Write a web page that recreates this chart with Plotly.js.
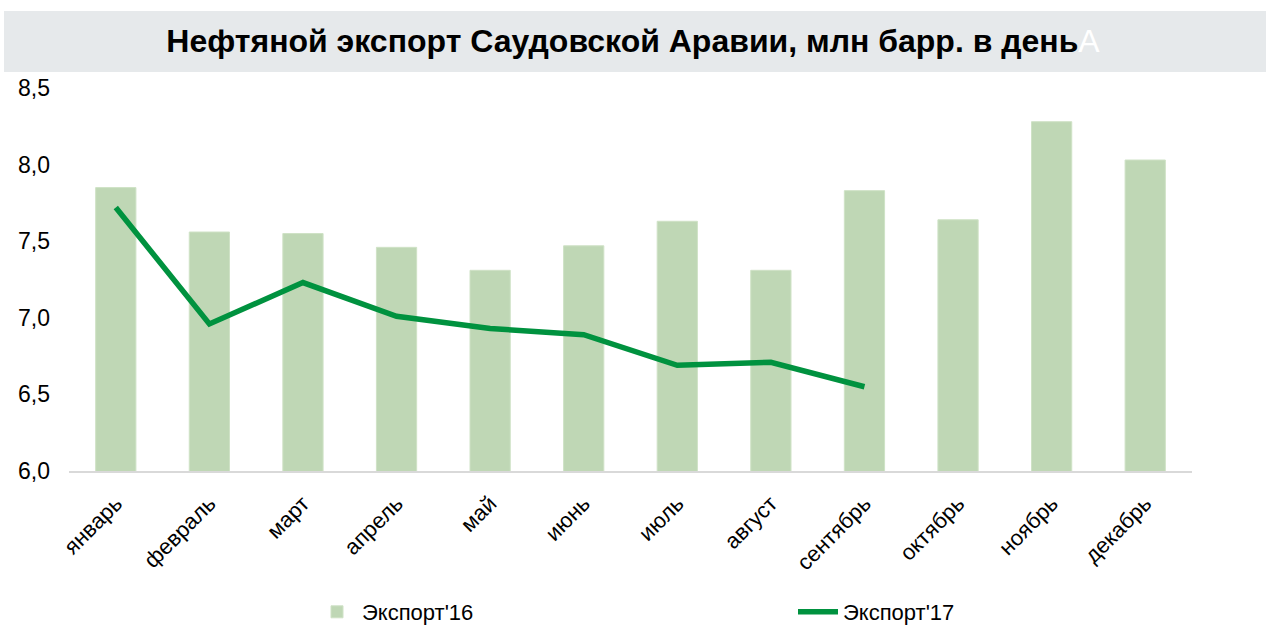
<!DOCTYPE html>
<html>
<head>
<meta charset="utf-8">
<script src="https://cdn.plot.ly/plotly-3.0.1.min.js"></script>
<style>html,body{margin:0;padding:0;background:#fff;}#chart{width:1266px;height:628px;}</style>
</head>
<body>
<div id="chart"></div>
<script>
const months = ["январь","февраль","март","апрель","май","июнь","июль","август","сентябрь","октябрь","ноябрь","декабрь"];
const export16 = [7.85, 7.56, 7.55, 7.46, 7.31, 7.47, 7.63, 7.31, 7.83, 7.64, 8.28, 8.03];
const months17 = ["январь","февраль","март","апрель","май","июнь","июль","август","сентябрь"];
const export17 = [7.72, 6.96, 7.23, 7.01, 6.93, 6.89, 6.69, 6.71, 6.55];
const seriesNames = ["Экспорт'16", "Экспорт'17"];
const yTicks = [6.0, 6.5, 7.0, 7.5, 8.0, 8.5];

const FONT = "Liberation Sans, Arial, sans-serif";

const traces = [
  {
    type: "bar",
    name: seriesNames[0],
    x: months,
    y: export16,
    marker: {color: "#BFD7B5", line: {color: "#CFE2C6", width: 1}},
    width: 0.43,
    hoverinfo: "x+y"
  },
  {
    type: "scatter",
    mode: "lines",
    name: seriesNames[1],
    x: months17,
    y: export17,
    line: {color: "#00923F", width: 5.5},
    hoverinfo: "x+y"
  }
];

const layout = {
  width: 1266,
  height: 628,
  margin: {l: 69, r: 74, t: 88, b: 157},
  paper_bgcolor: "#ffffff",
  plot_bgcolor: "#ffffff",
  separators: ", ",
  font: {family: FONT, color: "#000000", size: 22},
  title: {
    text: "Нефтяной экспорт Саудовской Аравии, млн барр. в день<span style='color:#ffffff;font-weight:normal'>A</span>",
    font: {family: FONT, size: 32, color: "#000000", weight: "bold"},
    x: 0.5, xanchor: "center", xref: "container",
    y: 1 - 41/628, yanchor: "middle", yref: "container"
  },
  shapes: [{
    type: "rect", xref: "paper", yref: "paper", layer: "below",
    x0: (4-69)/1123, x1: (1266-69)/1123,
    y0: (471-72)/383, y1: (471-11)/383,
    fillcolor: "#E6E9EB", line: {width: 0}
  }],
  xaxis: {
    type: "category",
    categoryarray: months,
    tickangle: -45,
    tickfont: {family: FONT, size: 22, color: "#000000"},
    showline: true, linecolor: "#D9D9D9", linewidth: 2,
    showgrid: false, zeroline: false,
    ticks: "", ticklabelstandoff: 9, automargin: false, fixedrange: true
  },
  yaxis: {
    range: [6, 8.5],
    tickvals: yTicks,
    tickformat: ".1f",
    tickfont: {family: FONT, size: 23, color: "#000000"},
    showgrid: false, zeroline: false, showline: false,
    ticks: "", ticklabelstandoff: 18, automargin: false, fixedrange: true
  },
  showlegend: true,
  legend: {
    orientation: "h",
    xref: "container", yref: "container",
    x: 312/1266, xanchor: "left",
    y: 1 - 612/628, yanchor: "middle",
    font: {family: FONT, size: 22, color: "#000000"},
    itemwidth: 40,
    entrywidth: 426,
    traceorder: "normal",
    bgcolor: "rgba(0,0,0,0)"
  },
  bargap: 0.57
};

Plotly.newPlot("chart", traces, layout, {displayModeBar: false, staticPlot: true});
</script>
</body>
</html>
